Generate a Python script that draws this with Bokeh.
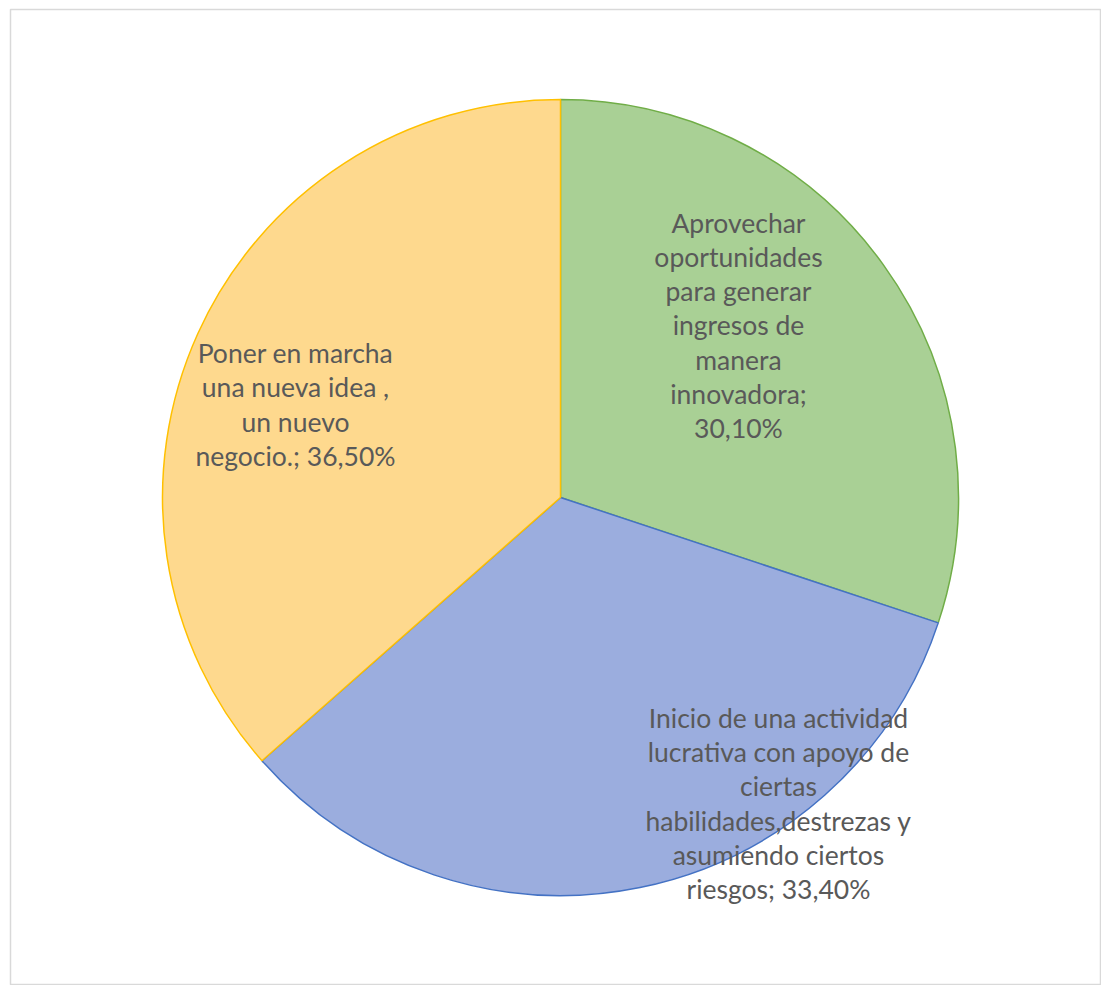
from bokeh.plotting import figure
from bokeh.models import ColumnDataSource, Range1d
from bokeh.core.properties import value
from bokeh.embed import file_html
from bokeh.resources import INLINE
import numpy as np

# ---- data ----
categories = [
    "Aprovechar\noportunidades\npara generar\ningresos de\nmanera\ninnovadora",
    "Inicio de una actividad\nlucrativa con apoyo de\nciertas\nhabilidades,destrezas y\nasumiendo ciertos\nriesgos",
    "Poner en marcha\nuna nueva idea ,\nun nuevo\nnegocio.",
]
values = [30.1, 33.4, 36.5]
separators = [";\n", "; ", "; "]

# ---- style / layout ----
fills = ["#a9d095", "#9badde", "#fed98e"]
lines = ["#70ad47", "#4472c4", "#ffc000"]
cx, cy, r = 560, -497, 398
label_dx = [178, 218, -265]
label_dy = [172, -306, 93]

vals = np.array(values)
frac = vals / vals.sum()
cum = np.concatenate([[0], np.cumsum(frac)])
start = np.pi / 2 - cum[:-1] * 2 * np.pi
end = np.pi / 2 - cum[1:] * 2 * np.pi

texts = [c + s + f"{v:.2f}".replace(".", ",") + "%" for c, s, v in zip(categories, separators, values)]

src = ColumnDataSource(dict(
    x=[cx] * 3, y=[cy] * 3, start=start, end=end, fill=fills, line=lines,
    lx=[cx + d for d in label_dx], ly=[cy + d for d in label_dy], text=texts,
))

p = figure(width=1101, height=985, output_backend="svg", toolbar_location=None,
           x_range=Range1d(10, 1101), y_range=Range1d(-984, -9),
           min_border_left=10, min_border_top=9, min_border_right=0, min_border_bottom=1)
p.axis.visible = False
p.grid.visible = False
p.outline_line_color = "#d9d9d9"
p.outline_line_width = 1.5
p.background_fill_color = "white"
p.border_fill_color = "white"

p.wedge(x="x", y="y", radius=r, start_angle="start", end_angle="end", direction="clock",
        fill_color="fill", line_color="line", line_width=1.5, source=src)

p.text(x="lx", y="ly", text="text", source=src, text_align="center", text_baseline="middle",
       text_font=value("Lato"), text_font_size="26.5px", text_color="#595959", text_line_height=1.07)

open("out.html", "w").write(file_html(p, INLINE))
